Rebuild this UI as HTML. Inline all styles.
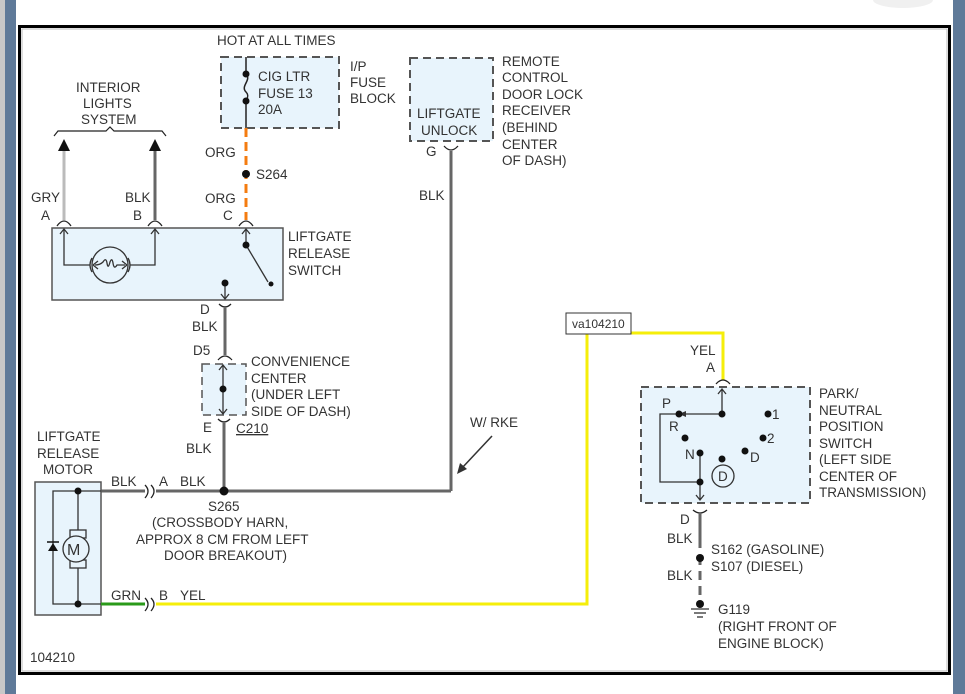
<!DOCTYPE html>
<html><head><meta charset="utf-8"><style>
html,body{margin:0;padding:0;background:#fff;}
svg{display:block;}
text{font-family:"Liberation Sans",Arial,sans-serif;font-size:13.5px;fill:#333;}
</style></head><body>
<svg width="965" height="694" viewBox="0 0 965 694" xmlns="http://www.w3.org/2000/svg">
<rect x="0" y="0" width="5" height="694" fill="#c8c8c8"/>
<rect x="5" y="0" width="11" height="694" fill="#5f7a99"/>
<rect x="953" y="0" width="12" height="694" fill="#5f7a99"/>
<ellipse cx="903" cy="0" rx="30" ry="8" fill="#f0f0f0"/>
<rect x="19.5" y="26.5" width="930" height="647" fill="#fff" stroke="#000" stroke-width="3"/>
<rect x="22" y="29" width="925" height="642" fill="none" stroke="#bbb" stroke-width="1"/>

<!-- Fuse block -->
<rect x="221" y="57" width="118" height="71" fill="#e8f4fc" stroke="#555" stroke-width="2" stroke-dasharray="8,5"/>
<line x1="246" y1="57" x2="246" y2="128" stroke="#222" stroke-width="1.5"/>
<rect x="243" y="77" width="6" height="22" fill="#e8f4fc"/>
<path d="M246 74 C252 80,240 86,246 92 C250 96,246 100,246 101" fill="none" stroke="#222" stroke-width="1.5"/>
<circle cx="246" cy="74" r="3.5" fill="#111"/><circle cx="246" cy="101" r="3.5" fill="#111"/>
<text x="217" y="45">HOT AT ALL TIMES</text>
<text x="258" y="81">CIG LTR</text><text x="258" y="98">FUSE 13</text><text x="258" y="114">20A</text>
<text x="350" y="71">I/P</text><text x="350" y="87">FUSE</text><text x="350" y="103">BLOCK</text>
<line x1="246" y1="128" x2="246" y2="220" stroke="#f47c10" stroke-width="3" stroke-dasharray="9,5"/>
<circle cx="246" cy="174" r="4" fill="#111"/>
<text x="205" y="157">ORG</text><text x="256" y="179">S264</text><text x="205" y="203">ORG</text><text x="223" y="220">C</text>

<!-- Interior lights -->
<text x="76" y="92">INTERIOR</text><text x="83" y="108">LIGHTS</text><text x="81" y="124">SYSTEM</text>
<path d="M54 136 L58 131 L106 131 L110 127 L114 131 L162 131 L166 136" fill="none" stroke="#222" stroke-width="1.2"/>
<polygon points="64,139 58,151 70,151" fill="#111"/>
<polygon points="155,139 149,151 161,151" fill="#111"/>
<line x1="64" y1="151" x2="64" y2="220" stroke="#bbb" stroke-width="3"/>
<line x1="155" y1="151" x2="155" y2="220" stroke="#666" stroke-width="3"/>
<text x="31" y="202">GRY</text><text x="41" y="220">A</text>
<text x="125" y="202">BLK</text><text x="133" y="220">B</text>
<g fill="none" stroke="#222" stroke-width="1.3">
<path d="M57 226 Q64 216 71 226"/><path d="M148 226 Q155 216 162 226"/><path d="M239 226 Q246 216 253 226"/>
</g>

<!-- Switch box -->
<rect x="52" y="228" width="231" height="72" fill="#e8f4fc" stroke="#555" stroke-width="1.5"/>
<g fill="none" stroke="#333" stroke-width="1.3">
<path d="M64 229 L64 265 L90 265"/><path d="M155 229 L155 265 L130 265"/>
<path d="M60 234 L64 229 L68 234"/><path d="M151 234 L155 229 L159 234"/><path d="M242 234 L246 229 L250 234"/>
<circle cx="110" cy="265" r="18"/>
<path d="M92 258 Q88 265 92 272"/><path d="M128 258 Q132 265 128 272"/>
<path d="M93 265 L98 261 M93 265 L98 269 M127 265 L122 261 M127 265 L122 269"/>
<path d="M95 265 Q100 265 103 262 Q106 257 107 263 Q108 270 110 262 Q112 257 113 263 Q114 270 117 265 L125 265"/>
<line x1="246" y1="229" x2="246" y2="245"/><line x1="246" y1="245" x2="268" y2="282"/>
<line x1="225" y1="283" x2="225" y2="299"/><path d="M221 294 L225 299 L229 294"/>
</g>
<circle cx="246" cy="245" r="3.5" fill="#111"/><circle cx="271" cy="284" r="2.5" fill="#111"/><circle cx="225" cy="283" r="3.5" fill="#111"/>
<text x="288" y="241">LIFTGATE</text><text x="288" y="258">RELEASE</text><text x="288" y="275">SWITCH</text>

<!-- D to convenience center -->
<path d="M219 304 Q225 310 231 304" fill="none" stroke="#222" stroke-width="1.3"/>
<line x1="225" y1="308" x2="225" y2="355" stroke="#666" stroke-width="3"/>
<path d="M218 360 Q225 352 232 360" fill="none" stroke="#222" stroke-width="1.3"/>
<text x="200" y="314">D</text><text x="192" y="331">BLK</text><text x="193" y="355">D5</text>
<rect x="202" y="364" width="44" height="51" fill="#e8f4fc" stroke="#555" stroke-width="1.5" stroke-dasharray="8,5"/>
<g fill="none" stroke="#333" stroke-width="1.3">
<line x1="223" y1="365" x2="223" y2="414"/><path d="M219 370 L223 365 L227 370"/><path d="M219 409 L223 414 L227 409"/>
</g>
<circle cx="223" cy="389" r="3.5" fill="#111"/>
<text x="251" y="366">CONVENIENCE</text><text x="251" y="383">CENTER</text><text x="251" y="399">(UNDER LEFT</text><text x="251" y="416">SIDE OF DASH)</text>
<path d="M218 419 Q224 425 230 419" fill="none" stroke="#222" stroke-width="1.3"/>
<line x1="224" y1="423" x2="224" y2="491" stroke="#666" stroke-width="3"/>
<text x="203" y="432">E</text><text x="236" y="433" text-decoration="underline">C210</text>
<text x="186" y="453">BLK</text>

<!-- Liftgate unlock -->
<rect x="410" y="58" width="83" height="83" fill="#e8f4fc" stroke="#555" stroke-width="2" stroke-dasharray="8,5"/>
<text x="417" y="118">LIFTGATE</text><text x="421" y="135">UNLOCK</text>
<text x="502" y="66">REMOTE</text><text x="502" y="82">CONTROL</text><text x="502" y="99">DOOR LOCK</text><text x="502" y="115">RECEIVER</text><text x="502" y="132">(BEHIND</text><text x="502" y="149">CENTER</text><text x="502" y="165">OF DASH)</text>
<path d="M444 146 Q451 154 458 146" fill="none" stroke="#222" stroke-width="1.3"/>
<text x="426" y="156">G</text>
<line x1="451" y1="151" x2="451" y2="491" stroke="#666" stroke-width="3"/>
<text x="419" y="200">BLK</text>
<text x="470" y="427">W/ RKE</text>
<line x1="492" y1="436" x2="462" y2="468" stroke="#333" stroke-width="1.5"/>
<polygon points="457,474 460,463 467,469" fill="#333"/>

<!-- Horizontal BLK -->
<line x1="101" y1="491" x2="145" y2="491" stroke="#666" stroke-width="3"/>
<line x1="156" y1="491" x2="451" y2="491" stroke="#666" stroke-width="3"/>
<path d="M145 485 Q151 491 145 498 M151 485 Q157 491 151 498" fill="none" stroke="#222" stroke-width="1.3"/>
<circle cx="224" cy="491" r="4.5" fill="#111"/>
<text x="111" y="486">BLK</text><text x="159" y="486">A</text><text x="180" y="486">BLK</text>
<text x="208" y="511">S265</text>
<text x="152" y="527">(CROSSBODY HARN,</text><text x="136" y="544">APPROX 8 CM FROM LEFT</text><text x="164" y="560">DOOR BREAKOUT)</text>

<!-- Motor -->
<text x="37" y="441">LIFTGATE</text><text x="37" y="458">RELEASE</text><text x="43" y="474">MOTOR</text>
<rect x="35" y="482" width="66" height="133" fill="#e8f4fc" stroke="#555" stroke-width="1.5"/>
<g fill="none" stroke="#333" stroke-width="1.3">
<path d="M101 491 L53 491 L53 604 L101 604"/>
<line x1="78" y1="491" x2="78" y2="530"/><line x1="78" y1="568" x2="78" y2="604"/>
<rect x="70" y="530" width="16" height="8"/><rect x="70" y="560" width="16" height="8"/>
<circle cx="76" cy="549" r="13" fill="#e8f4fc"/>
</g>
<text x="67" y="555" style="font-size:16px">M</text>
<polygon points="48,551 58,551 53,543" fill="#111"/><line x1="47" y1="542" x2="59" y2="542" stroke="#111" stroke-width="1.5"/>
<circle cx="78" cy="491" r="3.5" fill="#111"/><circle cx="78" cy="604" r="3.5" fill="#111"/>
<line x1="101" y1="604" x2="145" y2="604" stroke="#2a9a1a" stroke-width="3"/>
<path d="M145 598 Q151 604 145 611 M151 598 Q157 604 151 611" fill="none" stroke="#222" stroke-width="1.3"/>
<polyline points="156,604 587,604 587,333" fill="none" stroke="#f5ee0a" stroke-width="3"/>
<polyline points="631,333 723,333 723,380" fill="none" stroke="#f5ee0a" stroke-width="3"/>
<rect x="566" y="313" width="65" height="21" fill="#fff" stroke="#333" stroke-width="1"/>
<text x="572" y="328" style="font-size:12px">va104210</text>
<text x="111" y="600">GRN</text><text x="159" y="600">B</text><text x="180" y="600">YEL</text>
<text x="30" y="662">104210</text>

<!-- PNP switch -->
<text x="690" y="355">YEL</text><text x="706" y="372">A</text>
<path d="M716 384 Q723 376 730 384" fill="none" stroke="#222" stroke-width="1.3"/>
<rect x="641" y="387" width="169" height="116" fill="#e8f4fc" stroke="#555" stroke-width="2" stroke-dasharray="8,5"/>
<g fill="none" stroke="#333" stroke-width="1.3">
<path d="M722 414 L722 389 M718 394 L722 389 L726 394"/>
<path d="M722 414 L685 414"/><path d="M679 414 L660 414 L660 482 L700 482"/>
<path d="M700 453 L700 500 M696 495 L700 500 L704 495"/>
<circle cx="723" cy="476" r="11"/>
</g>
<polygon points="679,414 686,411 686,417" fill="#333"/>
<circle cx="679" cy="414" r="3.5" fill="#111"/><circle cx="722" cy="414" r="3.5" fill="#111"/>
<circle cx="768" cy="414" r="3.5" fill="#111"/><circle cx="763" cy="438" r="3.5" fill="#111"/>
<circle cx="685" cy="438" r="3.5" fill="#111"/><circle cx="700" cy="453" r="3.5" fill="#111"/>
<circle cx="745" cy="451" r="3.5" fill="#111"/><circle cx="722" cy="459" r="3.5" fill="#111"/>
<circle cx="700" cy="482" r="3.5" fill="#111"/>
<text x="662" y="408">P</text><text x="669" y="431">R</text><text x="685" y="459">N</text>
<text x="772" y="419">1</text><text x="767" y="443">2</text><text x="750" y="462">D</text>
<text x="718" y="481">D</text>
<text x="819" y="398">PARK/</text><text x="819" y="415">NEUTRAL</text><text x="819" y="431">POSITION</text><text x="819" y="448">SWITCH</text><text x="819" y="464">(LEFT SIDE</text><text x="819" y="481">CENTER OF</text><text x="819" y="497">TRANSMISSION)</text>
<path d="M693 510 Q700 516 707 510" fill="none" stroke="#222" stroke-width="1.3"/>
<line x1="700" y1="513" x2="700" y2="548" stroke="#666" stroke-width="3"/>
<line x1="700" y1="556" x2="700" y2="600" stroke="#666" stroke-width="3" stroke-dasharray="9,6"/>
<circle cx="700" cy="558" r="4" fill="#111"/><circle cx="700" cy="604" r="4" fill="#111"/>
<line x1="691" y1="609" x2="709" y2="609" stroke="#333" stroke-width="1.3"/>
<line x1="694" y1="613" x2="706" y2="613" stroke="#333" stroke-width="1.3"/>
<line x1="697" y1="617" x2="703" y2="617" stroke="#333" stroke-width="1.3"/>
<text x="680" y="524">D</text><text x="667" y="543">BLK</text><text x="667" y="580">BLK</text>
<text x="711" y="554">S162 (GASOLINE)</text><text x="711" y="571">S107 (DIESEL)</text>
<text x="718" y="614">G119</text><text x="718" y="631">(RIGHT FRONT OF</text><text x="718" y="648">ENGINE BLOCK)</text>
</svg>
</body></html>
